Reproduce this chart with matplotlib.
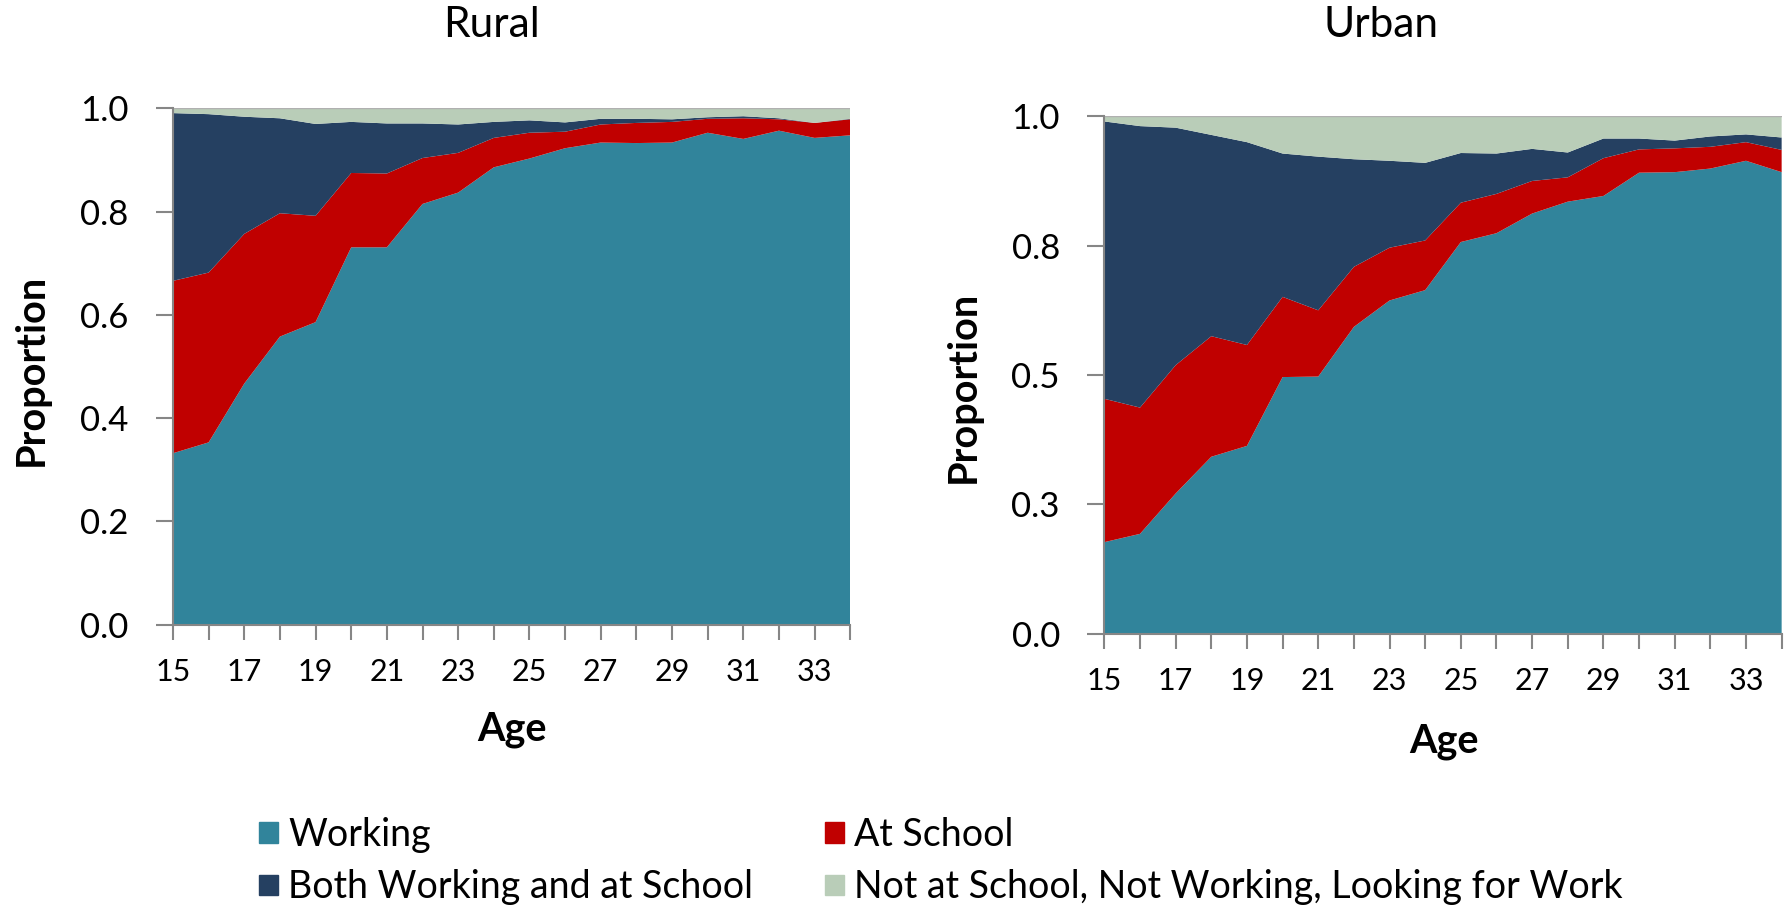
import numpy as np
import matplotlib
matplotlib.use("Agg")
from matplotlib import pyplot as plt
from matplotlib import patches as mpatches
from matplotlib.ticker import FixedLocator

plt.rcParams['font.family'] = ['Lato', 'DejaVu Sans']

ages = list(range(15, 35))
categories = ["Working", "At School", "Both Working and at School",
              "Not at School, Not Working, Looking for Work"]
colors = ['#31849B', '#C00000', '#254061', '#B9CDB8']

rural_yticks = [0, 0.2, 0.4, 0.6, 0.8, 1.0]
rural_ylabels = ['0.0', '0.2', '0.4', '0.6', '0.8', '1.0']
urban_yticks = [0, 0.25, 0.5, 0.75, 1.0]
urban_ylabels = ['0.0', '0.3', '0.5', '0.8', '1.0']

# cumulative tops (working, +school, +both), rest is looking for work
rural_working = [0.332, 0.353, 0.467, 0.558, 0.586, 0.731, 0.731, 0.815, 0.837, 0.886,
                 0.903, 0.923, 0.934, 0.933, 0.934, 0.953, 0.941, 0.957, 0.943, 0.948]
rural_school_top = [0.666, 0.682, 0.757, 0.797, 0.792, 0.875, 0.874, 0.904, 0.914, 0.943,
                    0.953, 0.955, 0.969, 0.972, 0.974, 0.980, 0.981, 0.979, 0.972, 0.979]
rural_both_top = [0.991, 0.989, 0.984, 0.981, 0.970, 0.974, 0.971, 0.971, 0.969, 0.974,
                  0.977, 0.973, 0.980, 0.980, 0.979, 0.983, 0.985, 0.981, 0.972, 0.980]

urban_working = [0.177, 0.193, 0.271, 0.342, 0.363, 0.496, 0.497, 0.593, 0.644, 0.664,
                 0.757, 0.774, 0.812, 0.835, 0.846, 0.891, 0.892, 0.899, 0.914, 0.892]
urban_school_top = [0.454, 0.437, 0.519, 0.575, 0.558, 0.651, 0.625, 0.709, 0.746, 0.760,
                    0.833, 0.850, 0.875, 0.882, 0.919, 0.936, 0.938, 0.941, 0.950, 0.935]
urban_both_top = [0.990, 0.981, 0.978, 0.964, 0.950, 0.928, 0.922, 0.917, 0.914, 0.910,
                  0.929, 0.928, 0.937, 0.930, 0.957, 0.957, 0.953, 0.961, 0.965, 0.959]


def shares(working, school_top, both_top):
    w = np.array(working)
    s = np.array(school_top) - w
    b = np.array(both_top) - np.array(school_top)
    n = 1.0 - np.array(both_top)
    return [w, s, b, n]


fig = plt.figure(figsize=(17.87, 9.07), dpi=100)
ax_r = fig.add_axes([0.0968, 0.3114, 0.379, 0.569])
ax_u = fig.add_axes([0.618, 0.3013, 0.379, 0.5705])

panels = [
    (ax_r, shares(rural_working, rural_school_top, rural_both_top), rural_yticks, rural_ylabels),
    (ax_u, shares(urban_working, urban_school_top, urban_both_top), urban_yticks, urban_ylabels),
]

for ax, series, yticks, ylabels in panels:
    ax.stackplot(ages, *series, colors=colors, linewidth=0)
    ax.set_xlim(15, 34)
    ax.set_ylim(0, 1)
    ax.xaxis.set_major_locator(FixedLocator(ages))
    ax.set_xticklabels([str(a) if (a - 15) % 2 == 0 else '' for a in ages])
    ax.yaxis.set_major_locator(FixedLocator(yticks))
    ax.set_yticklabels(ylabels)
    for side in ['top', 'right']:
        ax.spines[side].set_visible(False)
    for side in ['left', 'bottom']:
        ax.spines[side].set_color('#868686')
        ax.spines[side].set_linewidth(1.5)
    ax.axhline(1.0, color='#b0b0b0', lw=1.0)
    ax.tick_params(axis='x', direction='out', length=11, width=1.5, color='#868686',
                   labelsize=22, pad=13)
    ax.tick_params(axis='y', direction='out', length=12, width=1.5, color='#868686',
                   labelsize=25, pad=20)

fig.text(0.275, 0.972, "Rural", ha='center', va='center', fontsize=30.5)
fig.text(0.773, 0.972, "Urban", ha='center', va='center', fontsize=30.5)
fig.text(0.0175, 0.592, "Proportion", rotation=90, ha='center', va='center',
         fontsize=28.5, fontweight='bold')
fig.text(0.539, 0.573, "Proportion", rotation=90, ha='center', va='center',
         fontsize=28.5, fontweight='bold')
fig.text(0.2865, 0.196, "Age", ha='center', va='center', fontsize=28.5, fontweight='bold')
fig.text(0.808, 0.183, "Age", ha='center', va='center', fontsize=28.5, fontweight='bold')

handles = [mpatches.Patch(color=c, label=l) for c, l in zip(colors, categories)]
order = [0, 2, 1, 3]
fig.legend(handles=[handles[i] for i in order], ncol=2, loc='center left',
           bbox_to_anchor=(0.145, 0.0505), frameon=False, fontsize=27,
           borderpad=0, borderaxespad=0,
           handlelength=0.51, handleheight=0.46, handletextpad=0.27,
           columnspacing=1.9, labelspacing=0.44)

fig.savefig("out.png", dpi=100)
